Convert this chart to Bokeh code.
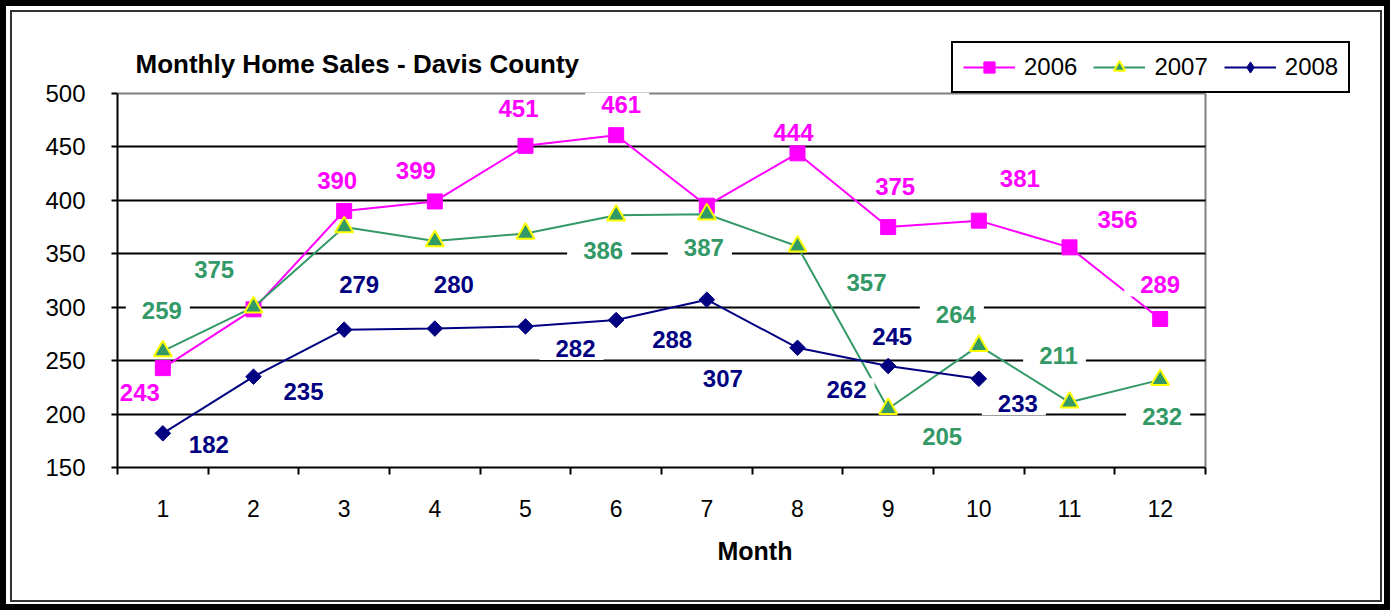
from math import pi
from bokeh.plotting import figure
from bokeh.models import (Range1d, FixedTicker, Grid, Legend, LegendItem, Label, Title,
                          ColumnDataSource)
from bokeh.core.properties import value
from bokeh.embed import file_html
from bokeh.resources import INLINE

# ---------------- data ----------------
months = list(range(1, 13))
month_labels = [str(m) for m in months]
sales_2006 = [243, 298, 390, 399, 451, 461, 395, 444, 375, 381, 356, 289]
sales_2007 = [259, 300, 375, 362, 369, 386, 387, 357, 205, 264, 211, 232]
sales_2008 = [182, 235, 279, 280, 282, 288, 307, 262, 245, 233]
y_ticks = [150, 200, 250, 300, 350, 400, 450, 500]
series_names = ["2006", "2007", "2008"]
title_text = "Monthly Home Sales - Davis County"
x_title = "Month"

# data-label placement: pixel offset of each label from its point (None = no label)
lab_off_2006 = [(-23, 24), None, (-7, -31), (-19, -31), (-7, -37), (5, -31), None,
                (-4, -21), (7, -41), (41, -42), (48, -28), (0, -34)]
lab_off_2007 = [(-1, -41), None, (-130, 42), None, None, (-13, 35), (-3, 33),
                (69, 36), (54, 28), (-23, -31), (-11, -47), (2, 37)]
lab_off_2008 = [(46, 11), (50, 15), (15, -45), (19, -44), (50, 22), (56, 19),
                (16, 79), (49, 42), (4, -29), (39, 25)]

FONT = "Liberation Sans"
C06, C07, C08 = "#FF00FF", "#339966", "#000080"

# ---------------- layout (pixels) ----------------
W, H = 1390, 610
F_LEFT, F_TOP, F_RIGHT, F_BOTTOM = 117, 30, 1370, 467   # frame edges
AX_RIGHT, AX_TOP = 1205, 93                              # plot-area edges (12.5 / 500)
x0, x1 = months[0] - 0.5, months[-1] + 0.5
y0, y1 = y_ticks[0], y_ticks[-1]
xppu = (AX_RIGHT - F_LEFT) / (x1 - x0)
yppu = (F_BOTTOM - AX_TOP) / (y1 - y0)
x_end = x1 + (F_RIGHT - AX_RIGHT) / xppu
y_end = y1 + (AX_TOP - F_TOP) / yppu

p = figure(width=W, height=H, x_range=Range1d(x0, x_end), y_range=Range1d(y0, y_end),
           output_backend="svg", toolbar_location=None, title_location=None,
           min_border_left=F_LEFT, min_border_right=W - F_RIGHT,
           min_border_top=F_TOP, min_border_bottom=H - F_BOTTOM,
           background_fill_color="white", border_fill_color=None)
p.outline_line_color = None
p.styles = {"background-color": "white",
            "box-shadow": "inset 0 0 0 6px black, inset 1px 1px 0 9px white, "
                          "inset 1px 1px 0 11px #333333"}

# grid
has_cb = "cross_bounds" in Grid.properties()
p.ygrid.ticker = FixedTicker(ticks=[t for t in y_ticks if y0 < t < y1])
p.ygrid.grid_line_color = "black"
p.ygrid.grid_line_width = 2
p.xgrid.ticker = FixedTicker(ticks=[x1])
p.xgrid.grid_line_color = "#808080"
p.xgrid.grid_line_width = 2
top_grid = Grid(dimension=1, ticker=FixedTicker(ticks=[y1]), grid_line_color="#808080",
                grid_line_width=2)
p.add_layout(top_grid)
if has_cb:
    p.ygrid.cross_bounds = (x0, x1)
    top_grid.cross_bounds = (x0, x1)
    p.xgrid.cross_bounds = (y0, y1)
else:
    p.ygrid.visible = False
    p.xgrid.visible = False
    top_grid.visible = False
    gy = [t for t in y_ticks if y0 < t < y1]
    p.segment(x0=[x0] * len(gy), x1=[x1] * len(gy), y0=gy, y1=gy, line_color="black", line_width=2)
    p.segment(x0=[x0], x1=[x1], y0=[y1], y1=[y1], line_color="#808080", line_width=2)
    p.segment(x0=[x1], x1=[x1], y0=[y0], y1=[y1], line_color="#808080", line_width=2)

# y axis
p.yaxis.ticker = FixedTicker(ticks=y_ticks)
p.yaxis.bounds = (y0, y1)
p.yaxis.axis_line_width = 2
p.yaxis.axis_line_color = "black"
p.yaxis.major_tick_line_width = 2
p.yaxis.major_tick_line_color = "black"
p.yaxis.major_tick_out = 6
p.yaxis.major_tick_in = 0
p.yaxis.minor_tick_line_color = None
p.yaxis.major_label_text_font = FONT
p.yaxis.major_label_text_font_size = "24px"
p.yaxis.major_label_text_color = "black"
p.yaxis.major_label_standoff = 26

# x axis: labels at categories, tick marks between them
p.xaxis.ticker = FixedTicker(ticks=months, minor_ticks=[m - 0.5 for m in months] + [x1])
p.xaxis.bounds = (x0, x1)
p.xaxis.major_label_overrides = {m: s for m, s in zip(months, month_labels)}
p.xaxis.axis_line_width = 2
p.xaxis.axis_line_color = "black"
p.xaxis.major_tick_line_color = None
p.xaxis.major_tick_out = 7
p.xaxis.major_tick_in = 0
p.xaxis.minor_tick_line_color = "black"
p.xaxis.minor_tick_line_width = 2
p.xaxis.minor_tick_out = 7
p.xaxis.minor_tick_in = 0
p.xaxis.major_label_text_font = FONT
p.xaxis.major_label_text_font_size = "23px"
p.xaxis.major_label_text_color = "black"
p.xaxis.major_label_standoff = 25

# series
m06 = months[:len(sales_2006)]
m07 = months[:len(sales_2007)]
m08 = months[:len(sales_2008)]
l06 = p.line(m06, sales_2006, line_color=C06, line_width=2)
s06 = p.scatter(m06, sales_2006, marker="square", size=15, fill_color=C06, line_color=C06)
l07 = p.line(m07, sales_2007, line_color=C07, line_width=2)
s07 = p.scatter(m07, sales_2007, marker="triangle", size=18, fill_color=C07,
                line_color="#FFFF00", line_width=2)
l08 = p.line(m08, sales_2008, line_color=C08, line_width=2)
s08 = p.scatter(m08, sales_2008, marker="square", angle=pi / 4, size=11, fill_color=C08,
                line_color=C08)
# hidden diamond renderer used only as the legend swatch (legend ignores marker angle)
s08_leg = p.scatter(m08, sales_2008, marker="diamond", size=11, fill_color=C08,
                    line_color=C08, visible=False)

# data labels
PAD = (16, 8, 3, 3)   # left, right, top, bottom
def add_labels(ms, vals, offs, color):
    xs, ys, ts, dx, dy = [], [], [], [], []
    for m, v, o in zip(ms, vals, offs):
        if o is None:
            continue
        xs.append(m); ys.append(v); ts.append(str(v))
        dx.append(o[0] - (PAD[0] - PAD[1]) / 2); dy.append(o[1])
    src = ColumnDataSource(dict(x=xs, y=ys, text=ts, dx=dx, dy=dy))
    p.text(x="x", y="y", text="text", x_offset="dx", y_offset="dy", source=src,
           text_font=value(FONT), text_font_style="bold", text_font_size="24px",
           text_color=color, text_align="center", text_baseline="middle",
           background_fill_color="white", padding=PAD)

add_labels(m06, sales_2006, lab_off_2006, C06)
add_labels(m07, sales_2007, lab_off_2007, C07)
add_labels(m08, sales_2008, lab_off_2008, C08)

# chart title (inside the frame area, above the plot area)
p.add_layout(Label(x=x0 + (135 - F_LEFT) / xppu, y=y1 + (AX_TOP - 63) / yppu, text=title_text,
                   text_font=FONT, text_font_style="bold", text_font_size="26px",
                   text_color="black", text_align="left", text_baseline="alphabetic"))

# x-axis title
month_title = Title(text=x_title, align="left", offset=717 - F_LEFT,
                    text_font=FONT, text_font_style="bold", text_font_size="25px",
                    text_color="black", standoff=30)
p.add_layout(month_title, "below")

# legend
legend = Legend(items=[LegendItem(label=series_names[0], renderers=[l06, s06]),
                       LegendItem(label=series_names[1], renderers=[l07, s07]),
                       LegendItem(label=series_names[2], renderers=[l08, s08_leg])],
                location=(951 - F_LEFT, F_BOTTOM - AX_TOP), orientation="horizontal",
                glyph_width=52, glyph_height=28,
                label_standoff=9, spacing=16, padding=10, margin=0,
                label_text_font=FONT, label_text_font_size="24px", label_text_color="black",
                border_line_color="black", border_line_width=2, border_line_alpha=1,
                background_fill_color="white", background_fill_alpha=1,
                inactive_fill_alpha=0)
p.add_layout(legend)

open("out.html", "w").write(file_html(p, INLINE))
